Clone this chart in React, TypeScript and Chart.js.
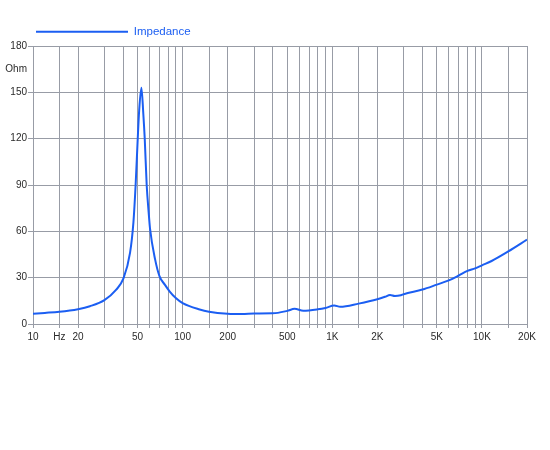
import { FC, useEffect, useRef } from "react";
import { Chart, registerables } from "chart.js";

Chart.register(...registerables);

// Frequência (Hz) e impedância (Ohm)
const frequencies = [
  10, 12, 15, 20, 24, 30, 36, 40, 44.5, 46.9, 48.5, 50.1, 51.2, 53, 54.6, 55.8,
  57.5, 59.3, 60.5, 65.4, 70, 76, 82, 90, 100, 130, 150, 200, 250, 300, 400,
  500, 560, 640, 800, 900, 1030, 1130, 1500, 2000, 2250, 2430, 2620, 2870,
  3000, 4000, 5000, 6000, 7000, 8000, 9000, 10000, 11600, 15000, 20000,
];
const impedance = [
  6.7, 7.2, 7.9, 9.6, 11.5, 15.5, 22.3, 29, 46, 66, 90, 120, 138, 153, 136, 120,
  90, 72, 62, 42, 31, 25.5, 21, 16.8, 13.5, 9.4, 8, 6.7, 6.5, 6.8, 6.9, 8.5,
  9.8, 8.6, 9.5, 10.4, 12, 11.1, 13.2, 16, 17.6, 18.8, 18.1, 18.6, 19.3, 22.3,
  25.5, 28.2, 31.4, 34.4, 36, 38, 40.8, 47, 54.6,
];

const xGrid = [
  10, 15, 20, 30, 40, 50, 60, 70, 80, 90, 100, 150, 200, 300, 400, 500, 600,
  700, 800, 900, 1000, 1500, 2000, 3000, 4000, 5000, 6000, 7000, 8000, 9000,
  10000, 15000, 20000,
];
const xLabels: Record<number, string> = {
  10: "10", 15: "Hz", 20: "20", 50: "50", 100: "100", 200: "200", 500: "500",
  1000: "1K", 2000: "2K", 5000: "5K", 10000: "10K", 20000: "20K",
};
const yTicks = [0, 30, 60, 90, 120, 150, 165, 180];
const yUnitTick = 165;

const BLUE = "#1b5ef2";
const GRID = "#989ca6";
const FONT = "'Liberation Sans', Arial, sans-serif";

// empurra a legenda para a direita, alinhada com o início do gráfico
const legendShift = {
  id: "legendShift",
  afterLayout(chart: any) {
    if (chart.legend) chart.legend.left += 26;
  },
};

const App: FC = () => {
  const canvasRef = useRef<HTMLCanvasElement | null>(null);

  useEffect(() => {
    if (!canvasRef.current) return;
    const ctx = canvasRef.current.getContext("2d");
    if (!ctx) return;

    const chart = new Chart(ctx, {
      type: "line",
      data: {
        datasets: [
          {
            label: "Impedance",
            data: frequencies.map((f, i) => ({ x: f, y: impedance[i] })),
            borderColor: BLUE,
            backgroundColor: BLUE,
            borderWidth: 2,
            pointRadius: 0,
            cubicInterpolationMode: "monotone",
          },
        ],
      },
      options: {
        animation: false,
        responsive: true,
        maintainAspectRatio: false,
        layout: { padding: { left: 0, right: 23, top: 16, bottom: 0 } },
        plugins: {
          tooltip: { enabled: false },
          legend: {
            align: "start",
            maxHeight: 30,
            labels: {
              boxWidth: 92,
              boxHeight: 2,
              padding: 10,
              color: BLUE,
              font: { family: FONT, size: 11.5 },
              generateLabels: () => [
                {
                  text: "Impedance",
                  fillStyle: BLUE,
                  strokeStyle: BLUE,
                  lineWidth: 0,
                  fontColor: BLUE,
                  datasetIndex: 0,
                },
              ],
            },
          },
        },
        scales: {
          x: {
            type: "logarithmic",
            min: 10,
            max: 20000,
            afterBuildTicks: (scale: any) => {
              scale.ticks = xGrid.map((v) => ({ value: v }));
            },
            afterFit: (scale: any) => {
              scale.height = 126;
            },
            ticks: {
              autoSkip: false,
              maxRotation: 0,
              padding: 3,
              color: "#2a2a2a",
              font: { family: FONT, size: 10 },
              callback: (value: any) => xLabels[Number(value)] ?? "",
            },
            grid: { color: GRID, tickColor: GRID, tickLength: 4 },
            border: { color: GRID },
          },
          y: {
            min: 0,
            max: 180,
            afterBuildTicks: (scale: any) => {
              scale.ticks = yTicks.map((v) => ({ value: v }));
            },
            afterFit: (scale: any) => {
              scale.width = 33;
            },
            ticks: {
              padding: 1,
              color: "#2a2a2a",
              font: { family: FONT, size: 10 },
              callback: (value: any) =>
                Number(value) === yUnitTick ? "Ohm" : String(value),
            },
            grid: {
              color: (c: any) =>
                c.tick && c.tick.value === yUnitTick ? "transparent" : GRID,
              tickColor: (c: any) =>
                c.tick && c.tick.value === yUnitTick ? "transparent" : GRID,
              tickLength: 5,
            },
            border: { color: GRID },
          },
        },
      },
      plugins: [legendShift],
    } as any);

    return () => {
      chart.destroy();
    };
  }, []);

  return (
    <div
      style={{
        position: "fixed",
        left: 0,
        top: 0,
        width: 550,
        height: 450,
        background: "#fff",
      }}
    >
      <canvas ref={canvasRef}></canvas>
    </div>
  );
};

export default App;
